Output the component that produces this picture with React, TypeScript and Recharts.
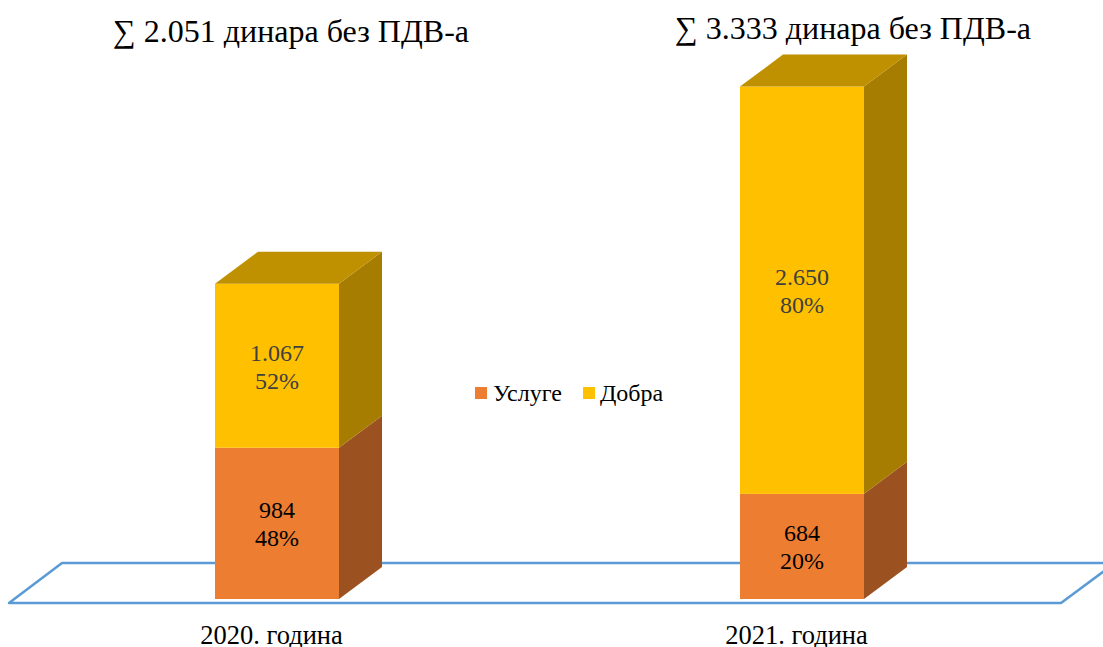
import React from "react";
import { BarChart, Bar, XAxis, YAxis, LabelList, Customized, usePlotArea } from "recharts";

const categories = ["2020. година", "2021. година"];
const uslugeValues = [984, 684];
const dobraValues = [1067, 2650];
const uslugePct = ["48%", "20%"];
const dobraPct = ["52%", "80%"];
const totals = ["2.051", "3.333"];

const formatNumber = (v: number) => (v >= 1000 ? `${Math.floor(v / 1000)}.${String(v % 1000).padStart(3, "0")}` : String(v));

const data = categories.map((name, i) => ({
  name,
  usluge: uslugeValues[i],
  dobra: dobraValues[i],
  uslugePct: uslugePct[i],
  dobraPct: dobraPct[i],
}));

const DX = 43;
const DY = 32;
const FONT = "'Liberation Serif', 'Times New Roman', serif";

const Box = (colors: { front: string; side: string; top?: string }) => (props: any) => {
  const { x, y, width, height } = props;
  const r = x + width;
  const b = y + height;
  return (
    <g>
      <rect x={x} y={y} width={width} height={height} fill={colors.front} />
      <polygon points={`${r},${y} ${r + DX},${y - DY} ${r + DX},${b - DY} ${r},${b}`} fill={colors.side} />
      {colors.top && (
        <polygon points={`${x},${y} ${x + DX},${y - DY} ${r + DX},${y - DY} ${r},${y}`} fill={colors.top} />
      )}
    </g>
  );
};

const Floor = () => {
  const p = usePlotArea();
  if (!p) return null;
  const bottom = p.y + p.height;
  const pts = `${p.x - 5},${bottom + 4} ${p.x + 48},${bottom - 36} ${p.x + p.width + 51},${bottom - 36} ${p.x + p.width - 3},${bottom + 4}`;
  return <polygon points={pts} fill="none" stroke="#5B9BD5" strokeWidth={2.5} strokeLinejoin="round" />;
};

const stackedLabel = (pcts: string[], color: string) => (props: any) => {
  const { x, y, width, height, value, index } = props;
  const cx = x + width / 2;
  const cy = y + height / 2;
  return (
    <text x={cx} textAnchor="middle" fontFamily={FONT} fontSize={24} fill={color}>
      <tspan x={cx} y={cy - 5}>{formatNumber(Number(value))}</tspan>
      <tspan x={cx} y={cy + 23}>{pcts[index]}</tspan>
    </text>
  );
};

const Titles = () => (
  <g fontFamily={FONT} fontSize={32} fill="#000">
    <text x={113} y={42}>∑ {totals[0]} динара без ПДВ-а</text>
    <text x={675} y={39}>∑ {totals[1]} динара без ПДВ-а</text>
  </g>
);

const LegendBox = () => (
  <g fontFamily={FONT} fontSize={24} fill="#000">
    <rect x={475} y={387} width={12} height={12} fill="#ED7D31" />
    <text x={493} y={401}>Услуге</text>
    <rect x={583} y={387} width={12} height={12} fill="#FFC000" />
    <text x={600} y={401}>Добра</text>
  </g>
);

export default function App() {
  return (
    <div style={{ position: "absolute", left: 0, top: 0, width: 1103, height: 647, background: "#fff" }}>
      <BarChart
        width={1103}
        height={647}
        data={data}
        margin={{ top: 61, right: 39, bottom: 18, left: 14 }}
        barCategoryGap={0}
      >
        <Customized component={Floor} />
        <XAxis
          dataKey="name"
          axisLine={false}
          tickLine={false}
          tickMargin={20}
          tick={{ fontFamily: FONT, fontSize: 26.5, fill: "#000", dx: -5 }}
        />
        <YAxis hide domain={[0, 3500]} />
        <Bar dataKey="usluge" stackId="a" barSize={124} isAnimationActive={false} shape={Box({ front: "#ED7D31", side: "#9C5220" })}>
          <LabelList dataKey="usluge" content={stackedLabel(uslugePct, "#000")} />
        </Bar>
        <Bar dataKey="dobra" stackId="a" barSize={124} isAnimationActive={false} shape={Box({ front: "#FFC000", side: "#A67D00", top: "#BF9000" })}>
          <LabelList dataKey="dobra" content={stackedLabel(dobraPct, "#404040")} />
        </Bar>
        <Customized component={Titles} />
        <Customized component={LegendBox} />
      </BarChart>
    </div>
  );
}
